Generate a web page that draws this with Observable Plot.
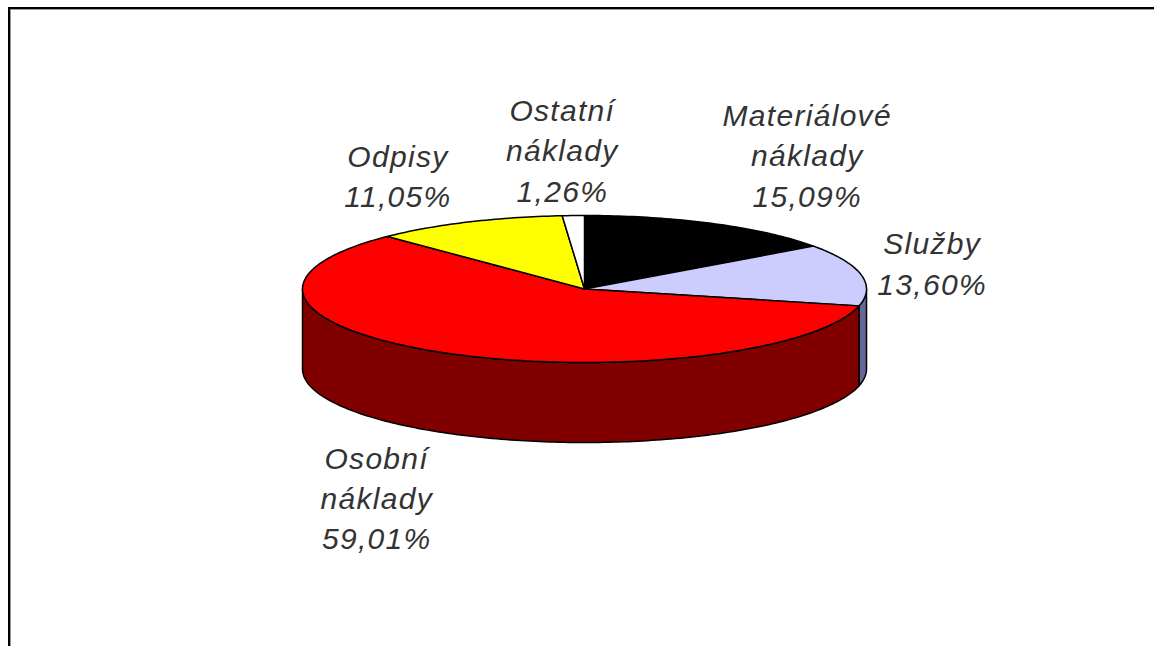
<!DOCTYPE html>
<html>
<head>
<meta charset="utf-8">
<script src="https://cdn.jsdelivr.net/npm/d3@7"></script>
<script src="https://cdn.jsdelivr.net/npm/@observablehq/plot@0.6"></script>
<style>
html,body{margin:0;padding:0;background:#fff;overflow:hidden}
#frame{position:absolute;left:8px;top:7px;width:1146px;height:639px;border-top:2px solid #000;border-left:2px solid #000;box-sizing:border-box;box-shadow:inset 1px 1px 0 #999}
#chart{position:absolute;left:0;top:0}
#chart text{letter-spacing:1.3px}
</style>
</head>
<body>
<div id="frame"></div>
<div id="chart"></div>
<script>
// Data
const categories = ["Materiálové\nnáklady", "Služby", "Osobní\nnáklady", "Odpisy", "Ostatní\nnáklady"];
const shares = [15.09, 13.60, 59.01, 11.05, 1.26];
const shareLabels = ["15,09%", "13,60%", "59,01%", "11,05%", "1,26%"];

// Styling and layout
const topColors = ["#000000", "#ccccff", "#ff0000", "#ffff00", "#ffffff"];
const sideColors = ["#000000", "#666699", "#800000", "#808000", "#808080"];
const labelOffsets = [[94, -70], [71, -13], [-69, 143], [-70, -48], [-11, -67]];
const depth = 80 / 73.5; // pie thickness in units of the y radius

const total = d3.sum(shares);
let acc = 0;
const slices = shares.map((v, i) => {
  const start = acc / total * 360;
  acc += v;
  return {i, start, end: acc / total * 360};
});

const px = t => Math.sin(t * Math.PI / 180);
const py = t => Math.cos(t * Math.PI / 180);
const arc = (a, b, drop = 0) => {
  const n = Math.max(2, Math.ceil(Math.abs(b - a)));
  return d3.range(n + 1).map(k => {
    const t = a + (b - a) * k / n;
    return {x: px(t), y: py(t) - drop};
  });
};

const marks = [];
// Side walls (only the front half, 90..270 degrees, is visible)
for (const s of slices) {
  const a = Math.max(s.start, 90), b = Math.min(s.end, 270);
  if (b <= a) continue;
  const wall = [...arc(a, b), ...arc(b, a, depth)];
  wall.push(wall[0]);
  marks.push(Plot.line(wall, {x: "x", y: "y", fill: sideColors[s.i], stroke: "#000", strokeWidth: 1.5, curve: "linear"}));
}
// Top faces
for (const s of slices) {
  const face = [{x: 0, y: 0}, ...arc(s.start, s.end), {x: 0, y: 0}];
  marks.push(Plot.line(face, {x: "x", y: "y", fill: topColors[s.i], stroke: "#000", strokeWidth: 1.5, curve: "linear"}));
}
// Labels
slices.forEach(s => {
  const mid = (s.start + s.end) / 2;
  marks.push(Plot.text([`${categories[s.i]}\n${shareLabels[s.i]}`], {
    x: () => px(mid),
    y: () => py(mid),
    text: d => d,
    dx: labelOffsets[s.i][0],
    dy: labelOffsets[s.i][1],
    fontFamily: "Liberation Sans",
    fontStyle: "italic",
    fontSize: 30,
    lineHeight: 1.34,
    textAnchor: "middle",
    lineAnchor: "middle",
    fill: "#333"
  }));
});

const plot = Plot.plot({
  width: 1154,
  height: 646,
  margin: 0,
  style: {background: "transparent", overflow: "visible"},
  x: {domain: [-1, 1], range: [302, 866], axis: null},
  y: {domain: [-1, 1], range: [362, 215], axis: null},
  marks
});
document.getElementById("chart").appendChild(plot);
</script>
</body>
</html>
